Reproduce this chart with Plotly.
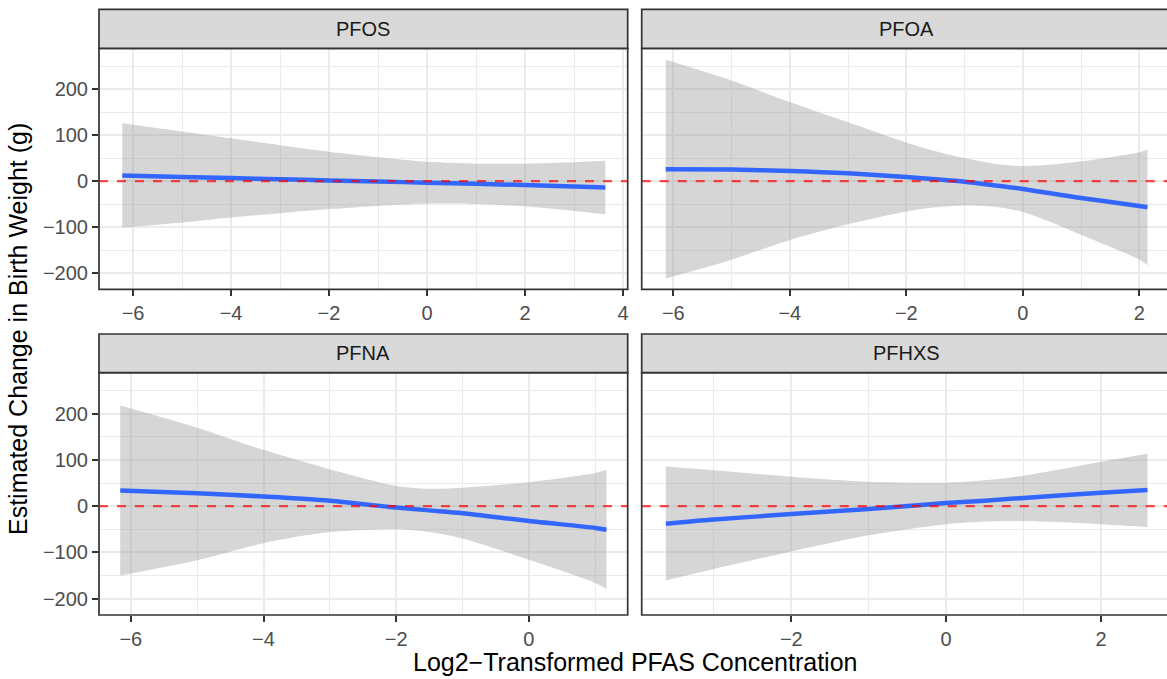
import plotly.graph_objects as go

W, H = 1167, 679

# ---------------- data ----------------
chemicals = ["PFOS", "PFOA", "PFNA", "PFHXS"]

pfos_x = [-6.22, -5, -4, -3, -2, -1, 0, 1, 2, 3, 3.64]
pfos_fit = [12, 9, 6.5, 4, 1.5, -1, -3.5, -6, -8.5, -12, -14]
pfos_upper = [126, 108, 93, 78, 64, 52, 42, 38, 38, 41, 44]
pfos_lower = [-101, -90, -79, -70, -61, -54, -49, -50, -55, -65, -72]

pfoa_x = [-6.13, -5, -4, -3, -2, -1.5, -1, -0.5, 0, 0.5, 1, 2, 2.14]
pfoa_fit = [26, 25, 22, 17, 9, 4, -1.5, -9, -17, -27, -37, -54, -57]
pfoa_upper = [264, 219, 172, 128, 84, 65, 50, 38, 33, 36, 43, 63, 69]
pfoa_lower = [-212, -171, -128, -94, -66, -57, -53, -56, -67, -90, -117, -171, -183]

pfna_x = [-6.16, -5, -4, -3, -2, -1.5, -1, 0, 1, 1.17]
pfna_fit = [34, 28, 21, 12, -3, -9, -15, -32, -47, -51]
pfna_upper = [218, 170, 122, 80, 44, 38, 40, 52, 72, 79]
pfna_lower = [-150, -117, -80, -56, -50, -56, -70, -116, -166, -179]

pfhxs_x = [-3.62, -3, -2, -1, 0, 0.5, 1, 2, 2.6]
pfhxs_fit = [-38, -29, -17, -6, 7, 12, 18, 29, 35]
pfhxs_upper = [86, 78, 64, 53, 51, 56, 66, 96, 114]
pfhxs_lower = [-161, -136, -98, -63, -39, -33, -32, -39, -45]

x_title = "Log2\u2212Transformed PFAS Concentration"
y_title = "Estimated Change in Birth Weight (g)"

# ---------------- layout geometry (pixels) ----------------
def px_x(p):
    return p / W

def px_y(p):
    return 1 - p / H

col_px = [(99.0, 627.7), (641.7, 1171.5)]
row_px = [(48.3, 289.3), (372.7, 615.0)]
strip_px = [(9.3, 48.3), (334.0, 372.7)]

x_ranges = [(-6.695, 4.096), (-6.5425, 2.4755), (-6.48, 1.49), (-3.932, 2.852)]
y_range = (-235.5, 289)

panels = [
    (pfos_x, pfos_fit, pfos_upper, pfos_lower),
    (pfoa_x, pfoa_fit, pfoa_upper, pfoa_lower),
    (pfna_x, pfna_fit, pfna_upper, pfna_lower),
    (pfhxs_x, pfhxs_fit, pfhxs_upper, pfhxs_lower),
]

FONT = "Liberation Sans, Arial, Helvetica, sans-serif"
GRID = "#EBEBEB"
DARK = "#333333"

fig = go.Figure()
layout = dict(
    width=W, height=H,
    margin=dict(l=0, r=0, t=0, b=0),
    paper_bgcolor="white", plot_bgcolor="white",
    showlegend=False,
    font=dict(family=FONT, size=20, color="#4D4D4D"),
)
shapes = []
annotations = []

for i, (xs, fit, up, lo) in enumerate(panels):
    r, c = divmod(i, 2)
    n = i + 1
    xa = f"x{n}" if n > 1 else "x"
    ya = f"y{n}" if n > 1 else "y"
    xname = f"xaxis{n}" if n > 1 else "xaxis"
    yname = f"yaxis{n}" if n > 1 else "yaxis"

    x0p, x1p = col_px[c]
    y0p, y1p = row_px[r]
    dom_x = [px_x(x0p), min(1.0, px_x(x1p))]
    dom_y = [px_y(y1p), px_y(y0p)]

    fig.add_trace(go.Scatter(x=xs, y=lo, mode="lines",
                             line=dict(width=0, shape="spline", smoothing=0.8),
                             hoverinfo="skip", xaxis=xa, yaxis=ya))
    fig.add_trace(go.Scatter(x=xs, y=up, mode="lines",
                             line=dict(width=0, shape="spline", smoothing=0.8),
                             fill="tonexty", fillcolor="rgba(153,153,153,0.4)",
                             hoverinfo="skip", xaxis=xa, yaxis=ya))
    fig.add_trace(go.Scatter(x=xs, y=fit, mode="lines",
                             line=dict(color="#3366FF", width=4.5, shape="spline", smoothing=0.8),
                             xaxis=xa, yaxis=ya))

    layout[xname] = dict(
        domain=dom_x, range=list(x_ranges[i]), anchor=ya,
        tickmode="linear", tick0=0, dtick=2,
        showgrid=True, gridcolor=GRID, gridwidth=2.2,
        minor=dict(tickmode="linear", tick0=0, dtick=1, showgrid=True,
                   gridcolor=GRID, gridwidth=1.1),
        zeroline=False, showline=False,
        ticks="outside", ticklen=6, tickwidth=1.7, tickcolor=DARK,
        tickfont=dict(size=20, color="#4D4D4D", family=FONT),
        fixedrange=True,
    )
    layout[yname] = dict(
        domain=dom_y, range=list(y_range), anchor=xa,
        tickmode="linear", tick0=0, dtick=100,
        showgrid=True, gridcolor=GRID, gridwidth=2.2,
        minor=dict(tickmode="linear", tick0=0, dtick=50, showgrid=True,
                   gridcolor=GRID, gridwidth=1.1),
        zeroline=False, showline=False,
        ticks="outside" if c == 0 else "", ticklen=6, tickwidth=1.7, tickcolor=DARK,
        showticklabels=(c == 0),
        tickfont=dict(size=20, color="#4D4D4D", family=FONT),
        fixedrange=True,
    )

    shapes.append(dict(type="line", xref=f"{xa} domain", yref=ya,
                       x0=0, x1=1, y0=0, y1=0, layer="above",
                       line=dict(color="rgba(255,0,0,0.7)", width=2.3, dash="9px,9px")))
    shapes.append(dict(type="rect", xref="paper", yref="paper",
                       x0=px_x(x0p), x1=px_x(x1p), y0=px_y(y1p), y1=px_y(y0p),
                       layer="above", line=dict(color=DARK, width=1.7),
                       fillcolor="rgba(0,0,0,0)"))
    s0, s1 = strip_px[r]
    shapes.append(dict(type="rect", xref="paper", yref="paper",
                       x0=px_x(x0p), x1=px_x(x1p), y0=px_y(s1), y1=px_y(s0),
                       layer="above", line=dict(color=DARK, width=1.7),
                       fillcolor="#D9D9D9"))
    annotations.append(dict(xref="paper", yref="paper",
                            x=px_x((x0p + x1p) / 2), y=px_y((s0 + s1) / 2),
                            text=chemicals[i], showarrow=False,
                            xanchor="center", yanchor="middle",
                            font=dict(size=20, color="#1A1A1A", family=FONT)))

annotations.append(dict(xref="paper", yref="paper", x=px_x(635), y=px_y(662),
                        text=x_title, showarrow=False, xanchor="center", yanchor="middle",
                        font=dict(size=25, color="black", family=FONT)))
annotations.append(dict(xref="paper", yref="paper", x=px_x(18), y=px_y(329),
                        text=y_title, showarrow=False, textangle=-90,
                        xanchor="center", yanchor="middle",
                        font=dict(size=25, color="black", family=FONT)))

layout["shapes"] = shapes
layout["annotations"] = annotations
fig.update_layout(**layout)

fig.write_html("out.html")
